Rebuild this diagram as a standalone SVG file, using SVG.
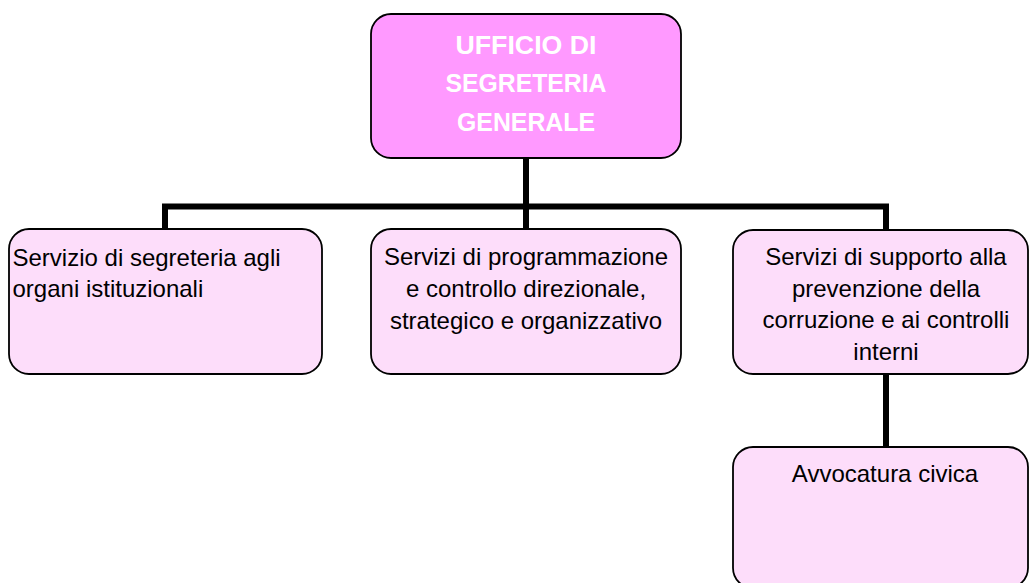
<svg xmlns="http://www.w3.org/2000/svg" width="1030" height="583" viewBox="0 0 1030 583">
  <style>
    .box { fill: #FDDDFA; stroke: #000; stroke-width: 1.8; }
    .top { fill: #FF99FF; stroke: #000; stroke-width: 1.8; }
    .t { font-family: "Liberation Sans", Arial, sans-serif; font-size: 24px; fill: #000; }
    .c { text-anchor: middle; }
    .h { font-family: "Liberation Sans", Arial, sans-serif; font-size: 26px; font-weight: bold; fill: #FFFFFF; text-anchor: middle; }
    .conn { fill: none; stroke: #000; stroke-width: 6; }
  </style>
  <rect width="1030" height="583" fill="#FFFFFF"/>
  <g id="connectors">
    <path class="conn" d="M165,230 V206.5 H886 V230"/>
    <path class="conn" d="M526,158 V229"/>
    <path class="conn" d="M886,374 V447"/>
  </g>
  <g id="ufficio">
    <rect class="top" x="371" y="14" width="310" height="144" rx="20" ry="20"/>
    <text class="h" x="526" y="53.5" textLength="141" lengthAdjust="spacingAndGlyphs">UFFICIO DI</text>
    <text class="h" x="526" y="92" textLength="161" lengthAdjust="spacingAndGlyphs">SEGRETERIA</text>
    <text class="h" x="526" y="130.5" textLength="138" lengthAdjust="spacingAndGlyphs">GENERALE</text>
  </g>
  <g id="segreteria-organi">
    <rect class="box" x="9" y="229" width="313" height="145" rx="20" ry="20"/>
    <text class="t" x="12.5" y="265.5">Servizio di segreteria agli</text>
    <text class="t" x="12.5" y="297">organi istituzionali</text>
  </g>
  <g id="programmazione">
    <rect class="box" x="371" y="229" width="310" height="145" rx="20" ry="20"/>
    <text class="t c" x="526" y="265">Servizi di programmazione</text>
    <text class="t c" x="526" y="297">e controllo direzionale,</text>
    <text class="t c" x="526" y="328.5">strategico e organizzativo</text>
  </g>
  <g id="prevenzione">
    <rect class="box" x="733" y="230" width="295" height="144" rx="20" ry="20"/>
    <text class="t c" x="886" y="265">Servizi di supporto alla</text>
    <text class="t c" x="886" y="296.5">prevenzione della</text>
    <text class="t c" x="886" y="328">corruzione e ai controlli</text>
    <text class="t c" x="886" y="360">interni</text>
  </g>
  <g id="avvocatura">
    <rect class="box" x="733" y="447" width="295" height="141" rx="20" ry="20"/>
    <text class="t c" x="885" y="481.5">Avvocatura civica</text>
  </g>
</svg>
